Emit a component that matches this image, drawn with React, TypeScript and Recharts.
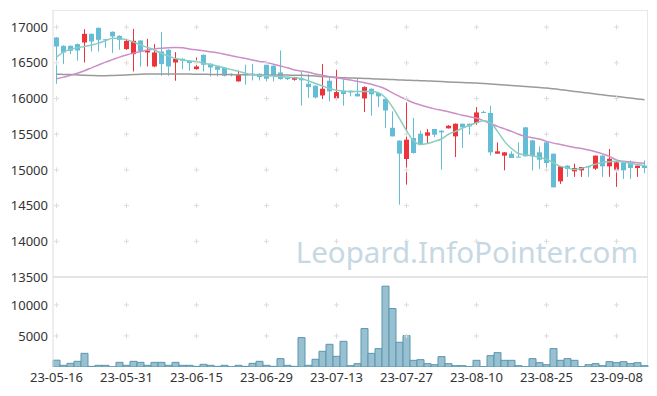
import React from 'react';
import { ComposedChart, BarChart, Bar, Line, XAxis, YAxis, ReferenceDot, ReferenceLine } from 'recharts';

const dates = [
  '23-05-16', '23-05-17', '23-05-18', '23-05-19', '23-05-22', '23-05-23', '23-05-24', '23-05-25', '23-05-26', '23-05-30',
  '23-05-31', '23-06-01', '23-06-02', '23-06-05', '23-06-07', '23-06-08', '23-06-09', '23-06-12', '23-06-13', '23-06-14',
  '23-06-15', '23-06-16', '23-06-19', '23-06-20', '23-06-21', '23-06-22', '23-06-23', '23-06-26', '23-06-27', '23-06-28',
  '23-06-29', '23-06-30', '23-07-03', '23-07-04', '23-07-05', '23-07-06', '23-07-07', '23-07-10', '23-07-11', '23-07-12',
  '23-07-13', '23-07-14', '23-07-17', '23-07-18', '23-07-19', '23-07-20', '23-07-21', '23-07-24', '23-07-25', '23-07-26',
  '23-07-27', '23-07-28', '23-07-31', '23-08-01', '23-08-02', '23-08-03', '23-08-04', '23-08-07', '23-08-08', '23-08-09',
  '23-08-10', '23-08-11', '23-08-14', '23-08-16', '23-08-17', '23-08-18', '23-08-21', '23-08-22', '23-08-23', '23-08-24',
  '23-08-25', '23-08-28', '23-08-29', '23-08-30', '23-08-31', '23-09-01', '23-09-04', '23-09-05', '23-09-06', '23-09-07',
  '23-09-08', '23-09-11', '23-09-12', '23-09-13', '23-09-14',
];

const open = [
  16855, 16738, 16738, 16762, 16785, 16906, 16990, 16830, 16935, 16878,
  16692, 16622, 16813, 16645, 16449, 16659, 16682, 16505, 16557, 16529,
  16412, 16612, 16487, 16449, 16427, 16340, 16240, 16340, 16350, 16347,
  16473, 16459, 16365, 16290, 16263, 16275, 16207, 16179, 16043, 16249,
  15993, 16109, 16109, 16067, 16001, 16137, 16077, 15995, 15590, 15410,
  15153, 15447, 15507, 15479, 15573, 15549, 15582, 15470, 15647, 15647,
  15657, 15812, 15797, 15227, 15200, 15227, 15186, 15596, 15414, 15246,
  15386, 15227, 14840, 15060, 14980, 14994, 15050, 15018, 15200, 15050,
  14994, 15106, 15106, 15027, 15060,
];

const high = [
  16860, 16745, 16745, 16770, 16972, 16910, 16995, 16835, 16940, 16885,
  16836, 16976, 16815, 16836, 16762, 16930, 16690, 16650, 16565, 16535,
  16575, 16620, 16495, 16455, 16435, 16352, 16393, 16473, 16487, 16352,
  16480, 16465, 16673, 16300, 16305, 16375, 16347, 16185, 16482, 16286,
  16403, 16263, 16115, 16290, 16170, 16140, 16080, 16000, 15820, 15415,
  15945, 15727, 15549, 15573, 15575, 15555, 15628, 15650, 15650, 15650,
  15881, 15830, 15899, 15386, 15250, 15260, 15386, 15600, 15420, 15330,
  15390, 15230, 15050, 15065, 15088, 15041, 15055, 15200, 15205, 15293,
  15110, 15110, 15134, 15060, 15134,
];

const low = [
  16207, 16482, 16622, 16530, 16505, 16659, 16659, 16710, 16640, 16682,
  16682, 16379, 16449, 16449, 16440, 16319, 16319, 16249, 16412, 16389,
  16405, 16379, 16309, 16309, 16309, 16310, 16235, 16193, 16253, 16253,
  16240, 16240, 16265, 16260, 16250, 15900, 16007, 16000, 15993, 15960,
  15983, 15900, 16030, 16030, 15810, 15760, 15880, 15587, 15470, 14514,
  14794, 15230, 15353, 15377, 15461, 15003, 15580, 15181, 15307, 15493,
  15633, 15797, 15200, 15227, 14994, 15167, 15176, 15190, 14994, 15014,
  15003, 14756, 14804, 14902, 14902, 14902, 14902, 15000, 14902, 14902,
  14762, 14874, 14874, 14902, 14957,
];

const close = [
  16729, 16645, 16668, 16673, 16906, 16799, 16822, 16820, 16870, 16822,
  16808, 16808, 16665, 16673, 16645, 16482, 16449, 16557, 16529, 16496,
  16449, 16473, 16435, 16403, 16319, 16330, 16333, 16330, 16335, 16300,
  16277, 16319, 16272, 16272, 16300, 16255, 16160, 16015, 16137, 16100,
  16090, 16063, 16085, 16030, 16160, 16058, 16030, 15833, 15470, 15227,
  15423, 15237, 15353, 15526, 15493, 15526, 15619, 15647, 15596, 15610,
  15805, 15800, 15246, 15260, 15246, 15167, 15176, 15190, 15190, 15143,
  15097, 14756, 15050, 15014, 15027, 15041, 15037, 15200, 15050, 15157,
  15106, 14994, 15027, 15060, 15027,
];

const volume = [
  1100, 270, 590, 915, 2200, 100, 270, 270, 30, 750,
  270, 915, 750, 270, 750, 750, 270, 750, 270, 270,
  100, 430, 270, 100, 270, 50, 270, 100, 590, 915,
  270, 100, 1345, 270, 100, 4735, 270, 1240, 2530, 3660,
  1720, 4140, 215, 540, 6190, 2200, 2960, 13020, 9415, 3980,
  5060, 1076, 1180, 540, 375, 1670, 540, 215, 215, 55,
  1076, 55, 1830, 2310, 1076, 1076, 215, 55, 1345, 700,
  375, 2960, 1076, 1345, 1076, 55, 375, 540, 215, 860,
  700, 860, 540, 700, 215,
];

const ma5 = [
  16580, 16650, 16690, 16710, 16730, 16750, 16776, 16810, 16846, 16842,
  16825, 16790, 16750, 16715, 16680, 16630, 16595, 16560, 16540, 16525,
  16515, 16495, 16478, 16455, 16430, 16405, 16380, 16355, 16335, 16325,
  16319, 16314, 16309, 16300, 16290, 16280, 16245, 16210, 16175, 16140,
  16115, 16105, 16099, 16099, 16099, 16099, 16080, 16010, 15880, 15720,
  15550, 15410, 15355, 15370, 15400, 15433, 15500, 15540, 15585, 15625,
  15660, 15690, 15660, 15540, 15400, 15300, 15230, 15210, 15200, 15175,
  15150, 15100, 15050, 15027, 15005, 15020, 15050, 15080, 15105, 15115,
  15120, 15110, 15090, 15075, 15060,
];

const ma20 = [
  16277, 16300, 16325, 16355, 16390, 16430, 16470, 16510, 16545, 16580,
  16610, 16636, 16660, 16680, 16695, 16705, 16712, 16715, 16710, 16695,
  16682, 16670, 16655, 16640, 16620, 16600, 16580, 16560, 16540, 16520,
  16505, 16480, 16455, 16430, 16400, 16385, 16368, 16345, 16325, 16305,
  16290, 16275, 16260, 16240, 16220, 16200, 16170, 16133, 16080, 16030,
  15985, 15940, 15910, 15880, 15855, 15835, 15815, 15790, 15765, 15745,
  15727, 15690, 15650, 15610, 15575, 15540, 15500, 15470, 15450, 15433,
  15400, 15375, 15355, 15335, 15315, 15300, 15280, 15255, 15225, 15190,
  15140, 15120, 15110, 15100, 15095,
];

const ma60 = [
  16340, 16338, 16335, 16330, 16325, 16322, 16320, 16320, 16322, 16325,
  16330, 16335, 16340, 16343, 16345, 16345, 16345, 16344, 16343, 16342,
  16340, 16339, 16338, 16337, 16336, 16335, 16334, 16333, 16332, 16331,
  16330, 16330, 16329, 16328, 16327, 16325, 16320, 16315, 16310, 16303,
  16297, 16292, 16288, 16284, 16281, 16277, 16273, 16269, 16265, 16261,
  16257, 16253, 16250, 16246, 16242, 16238, 16233, 16229, 16225, 16220,
  16216, 16210, 16203, 16196, 16189, 16182, 16175, 16168, 16161, 16154,
  16147, 16136, 16124, 16112, 16100, 16088, 16076, 16064, 16052, 16040,
  16029, 16018, 16006, 15995, 15983,
];

const dateTicks = ['23-05-16', '23-05-31', '23-06-15', '23-06-29', '23-07-13', '23-07-27', '23-08-10', '23-08-25', '23-09-08'];
const priceTicks = [13500, 14000, 14500, 15000, 15500, 16000, 16500, 17000];
const volumeTicks = [5000, 10000];

const RED = '#ee333b';
const BLUE = '#63bdd7';
const FONT = '"Noto Sans", sans-serif';

const data = dates.map((date, i) => ({
  date,
  open: open[i],
  high: high[i],
  low: low[i],
  close: close[i],
  volume: volume[i],
  ma5: ma5[i],
  ma20: ma20[i],
  ma60: ma60[i],
}));

const Candle = (props: any) => {
  const { x, y, width, height, payload } = props;
  const { open: o, close: c, high: h, low: l } = payload;
  const color = c >= o ? RED : BLUE;
  const top = Math.min(y, y + height);
  const full = Math.abs(height);
  const k = full / (h - l || 1);
  const bodyTop = top + (h - Math.max(o, c)) * k;
  const bodyH = Math.max(1, Math.abs(o - c) * k);
  const cx = x + width / 2;
  return (
    <g>
      <line x1={cx} x2={cx} y1={top} y2={top + full} stroke={color} strokeWidth={1} />
      <rect x={x} y={bodyTop} width={width} height={bodyH} fill={color} />
    </g>
  );
};

const Cross = (props: any) => (
  <path
    d={`M${props.cx - 2.5},${props.cy}h5M${props.cx},${props.cy - 2.5}v5`}
    stroke="#dcdcdc"
    strokeWidth={1}
  />
);

const tickStyle = { fontSize: 13, fill: '#333', fontFamily: FONT };

export default function App() {
  return (
    <div style={{ position: 'absolute', left: 0, top: 0, width: 657, height: 396, background: '#fff' }}>
      <div
        style={{
          position: 'absolute',
          left: 53,
          top: 10,
          width: 595,
          height: 357,
          borderTop: '1px solid #e8e8e8',
          borderRight: '1px solid #e8e8e8',
          boxSizing: 'border-box',
        }}
      />
      <div style={{ position: 'absolute', left: 0, top: 277 }}>
        <BarChart width={657} height={119} data={data} margin={{ top: 0, right: 9, bottom: 0, left: 0 }} barCategoryGap={0}>
          <XAxis
            dataKey="date"
            ticks={dateTicks}
            interval={0}
            axisLine={false}
            tickLine={false}
            tickSize={4}
            tickMargin={2}
            height={29}
            tick={tickStyle}
          />
          <YAxis
            domain={[0, 14500]}
            ticks={volumeTicks}
            width={53}
            axisLine={{ stroke: '#dddddd' }}
            tickLine={false}
            tickSize={3}
            tickMargin={2}
            tick={tickStyle}
            allowDataOverflow
          />
          {dateTicks.map((d) =>
            volumeTicks.map((v) => <ReferenceDot key={d + v} x={d} y={v} r={0} shape={Cross} />)
          )}
          <Bar dataKey="volume" fill="#98c0d1" stroke="#5a96af" strokeWidth={1} isAnimationActive={false} />
        </BarChart>
      </div>
      <div style={{ position: 'absolute', left: 0, top: 0 }}>
        <ComposedChart width={657} height={290} data={data} margin={{ top: 10, right: 9, bottom: 13, left: 0 }}>
          <XAxis dataKey="date" hide />
          <YAxis
            domain={[13500, 17240]}
            ticks={priceTicks}
            width={53}
            axisLine={{ stroke: '#dddddd' }}
            tickLine={false}
            tickSize={3}
            tickMargin={2}
            tick={tickStyle}
            allowDataOverflow
          />
          {dateTicks.map((d) =>
            priceTicks.slice(1).map((p) => <ReferenceDot key={d + p} x={d} y={p} r={0} shape={Cross} />)
          )}
          <ReferenceLine y={13500} stroke="#e4e4e4" strokeWidth={2} />
          <Bar dataKey={(d: any) => [d.low, d.high]} barSize={5} shape={Candle} isAnimationActive={false} />
          <Line type="monotone" dataKey="ma60" stroke="#9a9a9a" strokeWidth={1.5} dot={false} isAnimationActive={false} />
          <Line type="monotone" dataKey="ma20" stroke="#cb8ec6" strokeWidth={1.5} dot={false} isAnimationActive={false} />
          <Line type="monotone" dataKey="ma5" stroke="#88cdbf" strokeWidth={1.5} dot={false} isAnimationActive={false} />
        </ComposedChart>
      </div>
      <svg width={657} height={396} style={{ position: 'absolute', left: 0, top: 0, pointerEvents: 'none' }}>
        <text x={638} y={263} textAnchor="end" fontSize={29.5} fontFamily={FONT} fill="#c6d8e4">
          Leopard.InfoPointer.com
        </text>
      </svg>
    </div>
  );
}
